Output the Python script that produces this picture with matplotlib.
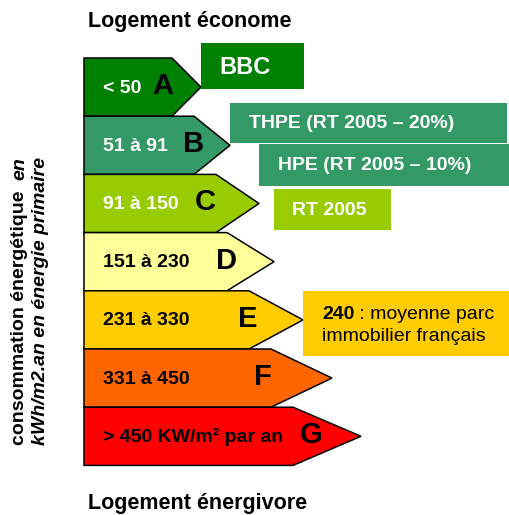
import matplotlib.pyplot as plt
from matplotlib.patches import Polygon, Rectangle

plt.rcParams['font.family'] = ['Liberation Sans', 'DejaVu Sans']

# energy classes
classes = ['A', 'B', 'C', 'D', 'E', 'F', 'G']
ranges = ['< 50', '51 à 91', '91 à 150', '151 à 230', '231 à 330',
          '331 à 450', '> 450 KW/m² par an']
colors = ['#008000', '#339966', '#99CC00', '#FFFF99', '#FFCC00', '#FF6600', '#FF0000']
range_colors = ['white', 'white', 'white', 'black', 'black', 'black', 'black']

# regulation labels
labels = ['BBC', 'THPE (RT 2005 – 20%)', 'HPE (RT 2005 – 10%)', 'RT 2005']
label_colors = ['#008000', '#339966', '#339966', '#99CC00']
label_sizes = [17, 14, 14, 14]

average_value = '240'
average_text = [' : moyenne parc', 'immobilier français']

title_top = 'Logement économe'
title_bottom = 'Logement énergivore'
ylabel_1 = 'consommation énergétique  '
ylabel_1b = 'en'
ylabel_2 = 'kWh/m2.an en énergie primaire'

# layout (pixels)
left = 84
top = 58
row_h = 58.2
body_end = [172, 194, 216, 227, 249, 271, 293]
tip_end = [201, 230, 259, 274, 303, 332, 361]
letter_x = [163, 194, 205, 227, 248, 263, 311]
label_boxes = [(201, 43, 304, 89), (230, 103, 507, 143),
               (259, 144, 512, 186), (274, 189, 391, 230)]
label_text_x = [219, 249, 278, 292]

fig = plt.figure(figsize=(5.1, 5.15), dpi=100)
ax = fig.add_axes([0, 0, 1, 1])
ax.set_xlim(0, 510)
ax.set_ylim(515, 0)
ax.axis('off')

for i, cls in enumerate(classes):
    y0 = top + i * row_h
    y1 = y0 + row_h
    ym = (y0 + y1) / 2
    poly = Polygon([(left, y0), (body_end[i], y0), (tip_end[i], ym),
                    (body_end[i], y1), (left, y1)], closed=True,
                   facecolor=colors[i], edgecolor='black', lw=1.1, zorder=2)
    ax.add_patch(poly)
    ax.text(103, ym + 1, ranges[i], color=range_colors[i], fontsize=14,
            fontweight='bold', ha='left', va='center', zorder=3)
    ax.text(letter_x[i], ym - 1, cls, color='black', fontsize=21,
            fontweight='bold', ha='center', va='center', zorder=3)

for i, lab in enumerate(labels):
    x0, y0, x1, y1 = label_boxes[i]
    ax.add_patch(Rectangle((x0, y0), x1 - x0, y1 - y0, facecolor=label_colors[i],
                           edgecolor='none', zorder=2))
    ax.text(label_text_x[i], (y0 + y1) / 2 + 1, lab, color='white',
            fontsize=label_sizes[i], fontweight='bold', ha='left', va='center', zorder=3)

# average box
ax.add_patch(Rectangle((303, 291), 207, 65, facecolor='#FFCC00', edgecolor='none', zorder=2))
t240 = ax.text(322, 319, average_value, fontsize=14, fontweight='bold',
               ha='left', va='baseline', zorder=3)
ax.annotate(average_text[0], xy=(1, 319), xycoords=(t240, 'data'), fontsize=14,
            ha='left', va='baseline', zorder=3)
ax.text(322, 341, average_text[1], fontsize=14, ha='left', va='baseline', zorder=3)

# titles
ax.text(88, 22, title_top, fontsize=15.5, fontweight='bold', ha='left', va='center')
ax.text(88, 503, title_bottom, fontsize=15.5, fontweight='bold', ha='left', va='center')

# vertical label
t1 = ax.text(20, 445, ylabel_1, fontsize=14, fontweight='bold', rotation=90,
             ha='center', va='bottom')
ax.annotate(ylabel_1b, xy=(20, 1), xycoords=('data', t1), fontsize=14,
            fontweight='bold', fontstyle='italic', rotation=90, ha='center', va='bottom')
ax.text(41, 445, ylabel_2, fontsize=14, fontweight='bold', fontstyle='italic',
        rotation=90, ha='center', va='bottom')

fig.savefig('out.png', dpi=100)
